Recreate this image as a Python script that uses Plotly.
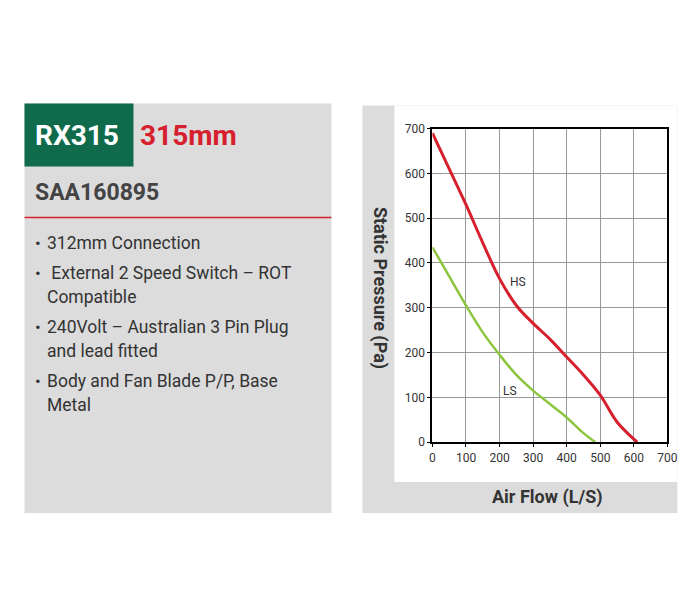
import plotly.graph_objects as go

# Fan curve data
hs_flow = [0, 50, 100, 150, 200, 250, 300, 350, 400, 450, 500, 550, 610]
hs_pressure = [690, 610, 530, 445, 365, 305, 265, 230, 190, 150, 105, 45, 0]
ls_flow = [0, 50, 100, 150, 200, 250, 300, 350, 400, 450, 485]
ls_pressure = [435, 370, 305, 245, 195, 150, 115, 85, 55, 20, 0]

bullets = [
    ["312mm Connection"],
    [" External 2 Speed Switch – ROT", "Compatible"],
    ["240Volt – Australian 3 Pin Plug", "and lead fitted"],
    ["Body and Fan Blade P/P, Base", "Metal"],
]

W, H = 700, 600
# the page is shown with a small offset/scale; compensate so positions land where the reference has them
SX, OX = 0.9816, 11.5
SY, OY = 0.978, 14.3
def px(x): return (x - OX) / SX / W
def py(y): return 1 - (y - OY) / SY / H

fig = go.Figure()
fig.add_trace(go.Scatter(x=hs_flow, y=hs_pressure, mode="lines", line=dict(color="#d7202e", width=3, shape="spline")))
fig.add_trace(go.Scatter(x=ls_flow, y=ls_pressure, mode="lines", line=dict(color="#8cc63f", width=2.5, shape="spline")))

def rect(x0, y0, x1, y1, color):
    fig.add_shape(type="rect", xref="paper", yref="paper", x0=px(x0), x1=px(x1), y0=py(y1), y1=py(y0),
                  fillcolor=color, line=dict(width=0), layer="below")

# left panel
rect(25, 103, 332, 513, "#dcdcdc")
rect(25, 103, 134, 166, "#0f6b4b")
fig.add_shape(type="line", xref="paper", yref="paper", x0=px(25), x1=px(332), y0=py(217), y1=py(217),
              line=dict(color="#d7202e", width=1.5))
# right panel
rect(363, 105, 678, 513, "#dcdcdc")
rect(395, 105, 678, 482, "white")

def txt(x, y, s, size, color, bold=False, anchor="left", angle=0):
    fig.add_annotation(x=px(x), y=py(y), xref="paper", yref="paper", text=f"<b>{s}</b>" if bold else s,
                       showarrow=False, xanchor=anchor, yanchor="middle", textangle=angle,
                       font=dict(family="Roboto", size=size, color=color))

txt(34, 135, "RX315", 28, "white", bold=True)
txt(139, 135, "315mm", 28, "#d7202e", bold=True)
txt(34, 192, "SAA160895", 23, "#444444", bold=True)

y = 243
for item in bullets:
    txt(34, y, "•", 17, "#333333")
    for line in item:
        txt(46, y, line, 17.5, "#333333")
        y += 24
    y += 6

txt(380, 288, "Static Pressure (Pa)", 18, "#333333", bold=True, anchor="center", angle=90)
txt(548, 497, "Air Flow (L/S)", 18, "#333333", bold=True, anchor="center")

fig.add_annotation(x=255, y=357, text="HS", showarrow=False, font=dict(family="Roboto", size=12, color="#333"))
fig.add_annotation(x=230, y=114, text="LS", showarrow=False, font=dict(family="Roboto", size=12, color="#333"))

ax = dict(showgrid=True, gridcolor="#999999", gridwidth=1, zeroline=False, showline=True, linecolor="black",
          linewidth=2, mirror=True, ticks="outside", ticklen=3, tickcolor="black",
          tickfont=dict(family="Roboto", size=12, color="#333"), tick0=0, dtick=100, range=[0, 700])
fig.update_layout(
    width=W, height=H, margin=dict(l=0, r=0, t=0, b=0),
    paper_bgcolor="white", plot_bgcolor="white", showlegend=False,
    xaxis=dict(ax, domain=[px(433), px(668)]),
    yaxis=dict(ax, domain=[py(442), py(128)]),
)

fig.write_html("out.html")
